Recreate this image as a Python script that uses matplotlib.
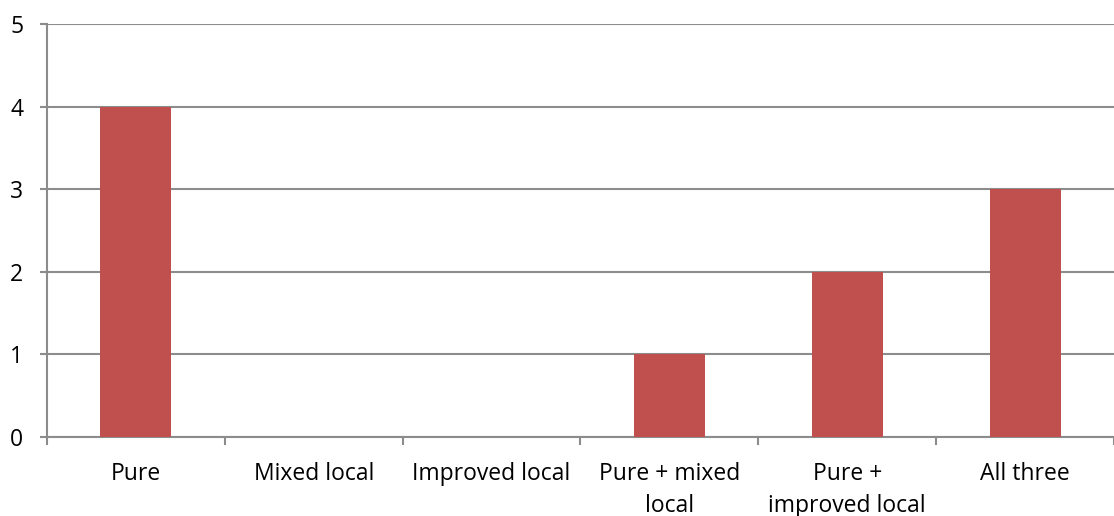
import matplotlib.pyplot as plt
import numpy as np

# methods combined and how many times each came out best
categories = ["Pure", "Mixed local", "Improved local", "Pure + mixed\nlocal",
              "Pure +\nimproved local", "All three"]
counts = [4, 0, 0, 1, 2, 3]
y_ticks = [0, 1, 2, 3, 4, 5]

plt.rcParams['font.family'] = ['Open Sans', 'DejaVu Sans']

grey = '#8c8c8c'
fig = plt.figure(figsize=(11.14, 5.16), dpi=100)
ax = fig.add_axes([47 / 1114, 1 - 437 / 516, 1 - 47 / 1114, (437 - 24) / 516])

x = np.arange(len(categories))
ax.bar(x, counts, width=0.4, color='#C0504D', zorder=3)

ax.set_ylim(0, 5)
ax.set_xlim(-0.5, -0.5 + 1067 / 180)
ax.set_yticks(y_ticks)
ax.yaxis.grid(True, color=grey, linewidth=1.5, zorder=0)
ax.tick_params(axis='y', length=5, width=1.5, color=grey, pad=12, labelsize=16.5)

# labels under each bar, tick marks between categories
ax.set_xticks(x)
ax.set_xticklabels(categories, fontsize=16.5, linespacing=1.45)
ax.set_xticks(np.arange(len(categories) + 1) - 0.5, minor=True)
ax.tick_params(axis='x', which='major', length=0, pad=18)
ax.tick_params(axis='x', which='minor', length=6, width=1.5, color=grey)

for side in ['top', 'right']:
    ax.spines[side].set_visible(False)
for side in ['left', 'bottom']:
    ax.spines[side].set_color(grey)
    ax.spines[side].set_linewidth(1.5)

fig.savefig('out.png', dpi=100)
